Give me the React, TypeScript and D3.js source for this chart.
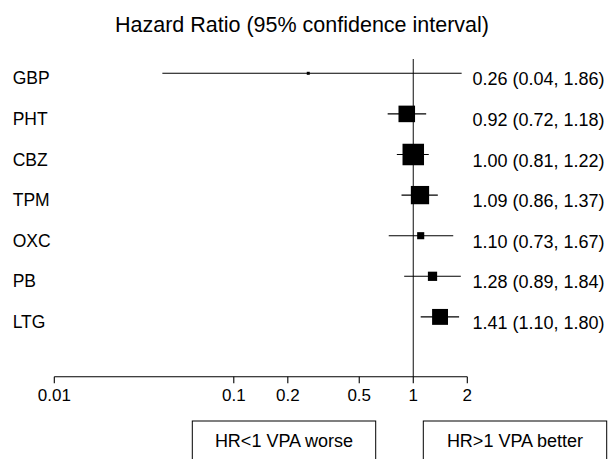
import React from "react";
import * as d3 from "d3";

const categories = ["GBP", "PHT", "CBZ", "TPM", "OXC", "PB", "LTG"];
const hazardRatio = [0.26, 0.92, 1.0, 1.09, 1.1, 1.28, 1.41];
const lowerCI = [0.04, 0.72, 0.81, 0.86, 0.73, 0.89, 1.1];
const upperCI = [1.86, 1.18, 1.22, 1.37, 1.67, 1.84, 1.8];
const weights = [0.14, 0.77, 1.0, 0.85, 0.33, 0.43, 0.74];
const tickValues = [0.01, 0.1, 0.2, 0.5, 1, 2];
const tickLabels = ["0.01", "0.1", "0.2", "0.5", "1", "2"];
const title = "Hazard Ratio (95% confidence interval)";
const leftNote = "HR<1 VPA worse";
const rightNote = "HR>1 VPA better";

const W = 613;
const H = 459;
const FONT = "'Liberation Sans', Arial, Helvetica, sans-serif";

export default function App() {
  const x = d3.scaleLog().domain([0.01, 2]).range([54.3, 467.3]);
  const y = d3.scalePoint<string>().domain(categories).range([73.3, 316.9]);
  const size = d3.scaleLinear().domain([0, 1]).range([0, 21.5]);
  const fmt = d3.format(".2f");
  const axisY = 376.7;

  return (
    <svg
      width={W}
      height={H}
      style={{ position: "absolute", left: 0, top: 0, background: "#fff" }}
      fontFamily={FONT}
    >
      <rect x={0} y={0} width={W} height={H} fill="#fff" />
      <text x={302} y={31.7} fontSize={21.5} textAnchor="middle" fill="#000">
        {title}
      </text>

      {/* reference line at HR = 1 */}
      <line x1={x(1)} x2={x(1)} y1={59} y2={axisY} stroke="#222" strokeWidth={1.1} />

      {categories.map((c, i) => {
        const cy = y(c)!;
        const s = size(weights[i]);
        const label = `${fmt(hazardRatio[i])} (${fmt(lowerCI[i])}, ${fmt(upperCI[i])})`;
        return (
          <g key={c}>
            <text x={12.7} y={cy + 11} fontSize={17.5} fill="#000">
              {c}
            </text>
            <line x1={x(lowerCI[i])} x2={x(upperCI[i])} y1={cy} y2={cy} stroke="#000" strokeWidth={1.1} />
            <rect x={x(hazardRatio[i]) - s / 2} y={cy - s / 2} width={s} height={s} fill="#000" />
            <text x={472.5} y={cy + 12} fontSize={18} fill="#000">
              {label}
            </text>
          </g>
        );
      })}

      {/* axis */}
      <line x1={x(0.01)} x2={x(2)} y1={axisY} y2={axisY} stroke="#000" strokeWidth={1.1} />
      {tickValues.map((t, i) => (
        <g key={t}>
          <line x1={x(t)} x2={x(t)} y1={axisY} y2={axisY + 6.5} stroke="#000" strokeWidth={1.1} />
          <text x={x(t)} y={400.7} fontSize={17} textAnchor="middle" fill="#000">
            {tickLabels[i]}
          </text>
        </g>
      ))}

      {/* notes */}
      <rect x={192.3} y={421} width={183.4} height={50} fill="none" stroke="#000" strokeWidth={1} />
      <text x={284} y={446.7} fontSize={18} textAnchor="middle" fill="#000">
        {leftNote}
      </text>
      <rect x={423.3} y={421} width={183.4} height={50} fill="none" stroke="#000" strokeWidth={1} />
      <text x={515} y={446.7} fontSize={18} textAnchor="middle" fill="#000">
        {rightNote}
      </text>
    </svg>
  );
}
